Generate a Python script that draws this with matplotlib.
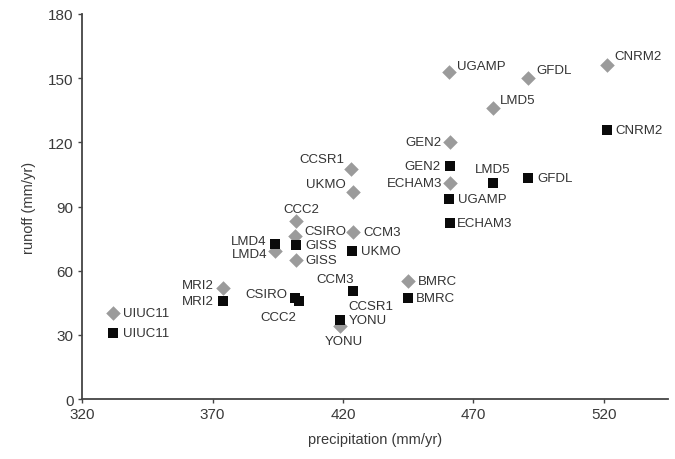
import matplotlib.pyplot as plt

plt.rcParams['font.family'] = ['Liberation Sans', 'DejaVu Sans']

# grey diamonds
grey_models = ['UIUC11', 'MRI2', 'LMD4', 'CCC2', 'CSIRO', 'GISS', 'CCM3', 'CCSR1', 'UKMO',
               'YONU', 'BMRC', 'GEN2', 'ECHAM3', 'UGAMP', 'LMD5', 'GFDL', 'CNRM2']
grey_precip = [332, 374, 394, 402, 401.5, 402, 424, 423, 424, 419, 445, 461, 461, 460.5, 477.5, 491, 521]
grey_runoff = [40, 52, 69, 83, 76, 65, 78, 107.5, 97, 34, 55, 120, 101, 153, 136, 150, 156]

# black squares
black_models = ['UIUC11', 'MRI2', 'LMD4', 'GISS', 'CSIRO', 'CCC2', 'UKMO', 'CCM3', 'CCSR1',
                'YONU', 'BMRC', 'GEN2', 'UGAMP', 'ECHAM3', 'LMD5', 'GFDL', 'CNRM2']
black_precip = [332, 374, 394, 402, 401.5, 403, 423.5, 424, 424, 419, 445, 461, 460.5, 461, 477.5, 491, 521]
black_runoff = [31, 46, 72.5, 72, 47, 46, 69, 50.5, 50.5, 37, 47, 109, 93.5, 82.5, 101, 103.5, 126]

# label placement (pixel offset, horizontal alignment)
grey_offsets = {
    'UIUC11': (10, 0, 'left'), 'MRI2': (-9, 3, 'right'), 'LMD4': (-8, -3, 'right'),
    'CCC2': (5, 12, 'center'), 'CSIRO': (10, 5, 'left'), 'GISS': (9, 0, 'left'),
    'CCM3': (10, 0, 'left'), 'CCSR1': (-6, 10, 'right'), 'UKMO': (-8, 8, 'right'),
    'YONU': (3, -15, 'center'), 'BMRC': (10, 0, 'left'), 'GEN2': (-8, 0, 'right'),
    'ECHAM3': (-8, 0, 'right'), 'UGAMP': (8, 6, 'left'), 'LMD5': (7, 8, 'left'),
    'GFDL': (8, 8, 'left'), 'CNRM2': (8, 9, 'left'),
}
black_offsets = {
    'UIUC11': (10, 0, 'left'), 'MRI2': (-9, 0, 'right'), 'LMD4': (-9, 3, 'right'),
    'GISS': (9, 0, 'left'), 'CSIRO': (-7, 4, 'right'), 'CCC2': (-2, -16, 'right'),
    'UKMO': (9, 0, 'left'), 'CCM3': (0, 12, 'right'), 'CCSR1': (-5, -15, 'left'),
    'YONU': (8, 0, 'left'), 'BMRC': (8, 0, 'left'), 'GEN2': (-9, 0, 'right'),
    'UGAMP': (9, 0, 'left'), 'ECHAM3': (7, 0, 'left'), 'LMD5': (0, 14, 'center'),
    'GFDL': (9, 0, 'left'), 'CNRM2': (9, 0, 'left'),
}

fig = plt.figure(figsize=(6.75, 4.6), dpi=100)
ax = fig.add_axes([0.1215, 0.1304, 0.868, 0.837])

ax.scatter(grey_precip, grey_runoff, marker='D', s=55, color='#9b9b9b', zorder=2, linewidths=0)
ax.scatter(black_precip, black_runoff, marker='s', s=62, color='#0a0a0a', zorder=3, linewidths=0)

for name, x, y in zip(grey_models, grey_precip, grey_runoff):
    dx, dy, ha = grey_offsets[name]
    ax.annotate(name, (x, y), xytext=(dx, dy), textcoords='offset pixels',
                ha=ha, va='center', fontsize=9.5, color='#333333')
for name, x, y in zip(black_models, black_precip, black_runoff):
    dx, dy, ha = black_offsets[name]
    ax.annotate(name, (x, y), xytext=(dx, dy), textcoords='offset pixels',
                ha=ha, va='center', fontsize=9.5, color='#333333')

ax.set_xlim(320, 544.5)
ax.set_ylim(0, 180)
ax.set_xticks([320, 370, 420, 470, 520])
ax.set_yticks(range(0, 181, 30))
ax.spines['top'].set_visible(False)
ax.spines['right'].set_visible(False)
for s in ['left', 'bottom']:
    ax.spines[s].set_color('#444444')
    ax.spines[s].set_linewidth(1.3)
ax.tick_params(direction='out', length=3, width=1, color='#444444', labelsize=11,
               labelcolor='#3a3a3a', pad=3)
ax.set_xlabel('precipitation (mm/yr)', fontsize=10.5, color='#3a3a3a', labelpad=8)
ax.set_ylabel('runoff (mm/yr)', fontsize=10.5, color='#3a3a3a', labelpad=9)

fig.savefig('out.png', dpi=100)
